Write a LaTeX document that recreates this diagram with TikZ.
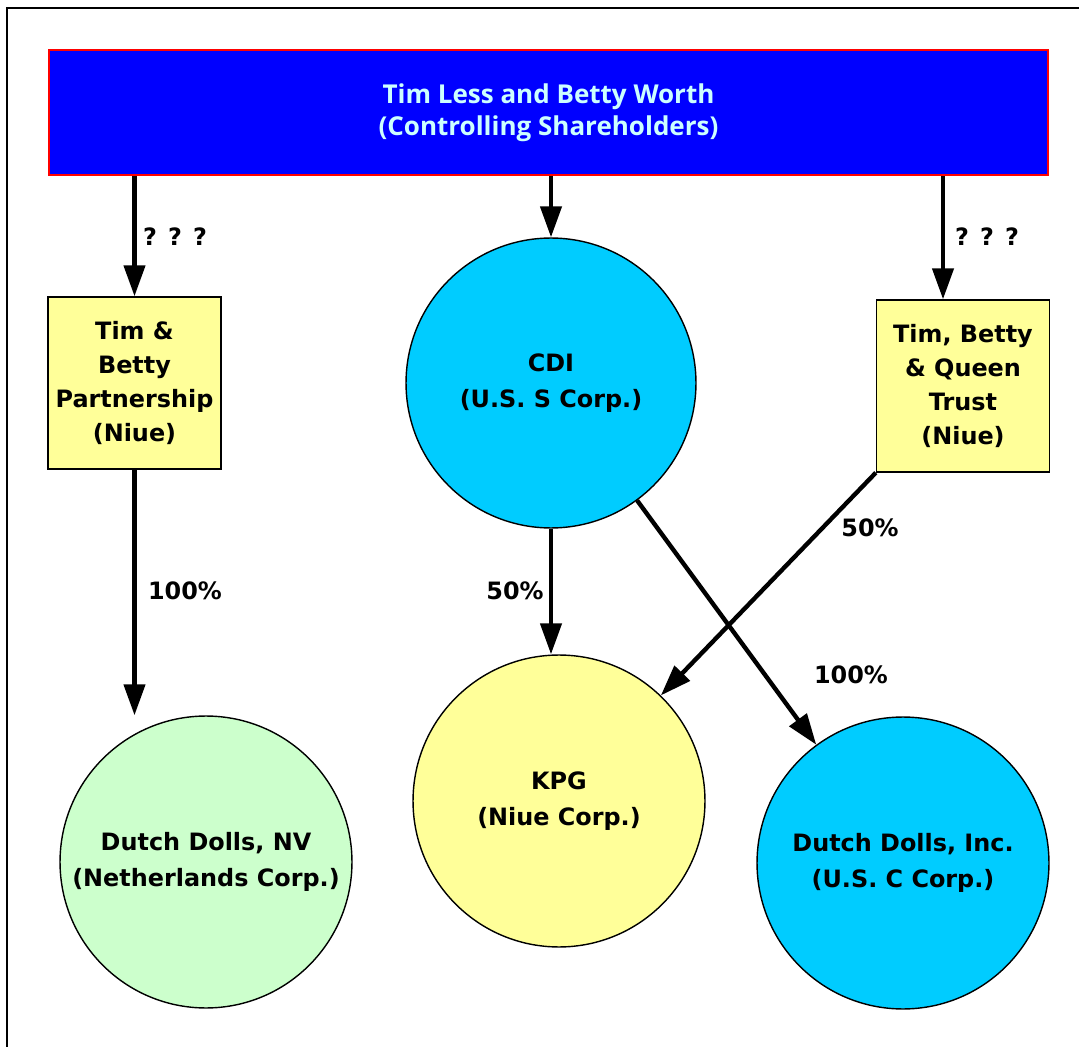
\documentclass[tikz,border=0pt]{standalone}
\usepackage{fontspec}
\setmainfont{DejaVu Sans}
\newfontfamily\headfont{Open Sans}
\usetikzlibrary{arrows.meta,calc,positioning}
\definecolor{ownerblue}{RGB}{0,0,255}
\definecolor{ownertext}{RGB}{204,255,255}
\definecolor{corpcyan}{RGB}{0,204,255}
\definecolor{paleyellow}{RGB}{255,255,153}
\definecolor{palegreen}{RGB}{204,255,204}
\tikzset{
  holder box/.style={rectangle,draw=red,fill=ownerblue,line width=0.9pt,
    minimum width=19.98cm,minimum height=2.5cm,inner sep=0pt,
    text=ownertext,align=center,
    font=\headfont\bfseries\fontsize{14.8}{18.2}\selectfont},
  entity box/.style={rectangle,draw=black,fill=paleyellow,line width=0.8pt,
    minimum width=3.46cm,minimum height=3.44cm,inner sep=0pt,align=center,
    font=\bfseries\fontsize{13.6}{19.3}\selectfont},
  corp circle/.style={circle,draw=black,line width=0.8pt,
    minimum size=5.84cm,inner sep=0pt,align=center,
    font=\bfseries\fontsize{13.6}{20.2}\selectfont},
  stake edge/.style={-{Triangle[length=6.2mm,width=4.2mm]},line width=2.5pt},
  stake label/.style={font=\bfseries\fontsize{13.6}{17}\selectfont,inner sep=0pt}
}
\begin{document}
\begin{tikzpicture}[x=0.02cm,y=-0.02cm]
  \useasboundingbox (0,0) rectangle (1079,1047);
  \draw[line width=1.1pt] (7,1047) -- (7,8) -- (1079,8);
  % owners and holding entities
  \node[holder box] (holders) at (548.5,112.5)
    {Tim Less and Betty Worth\\(Controlling Shareholders)};
  \node[entity box] (partner) at (134.5,383)
    {Tim \&\\Betty\\Partnership\\(Niue)};
  \node[corp circle,fill=corpcyan,minimum size=5.8cm] (cdi) at (551,383)
    {CDI\\(U.S. S Corp.)};
  \node[entity box] (trust) at (963,386)
    {Tim, Betty\\\& Queen\\Trust\\(Niue)};
  % operating companies
  \node[corp circle,fill=palegreen] (ddnv) at (206,862)
    {Dutch Dolls, NV\\(Netherlands Corp.)};
  \node[corp circle,fill=paleyellow] (kpg) at (559,801)
    {KPG\\(Niue Corp.)};
  \node[corp circle,fill=corpcyan] (ddinc) at (903,863)
    {Dutch Dolls, Inc.\\(U.S. C Corp.)};
  % ownership arrows
  \draw[stake edge] (partner.north |- holders.south) -- (partner.north);
  \draw[stake edge] (cdi.north |- holders.south) -- (cdi.north);
  \draw[stake edge] ([xshift=-0.4cm]trust.north |- holders.south)
    -- ([xshift=-0.4cm]trust.north);
  \draw[stake edge] (partner.south) -- (partner.south |- ddnv.north);
  \draw[stake edge] (cdi.south) -- (cdi.south |- kpg.north);
  \draw[stake edge] (cdi) -- (ddinc);
  \draw[stake edge] (trust.south west) -- (kpg);
  % percentages
  \node[stake label] (qleft) at (175,237) {? ? ?};
  \node[stake label] (qright) at (987,237) {? ? ?};
  \node[stake label] (pnv) at (185,591) {100\%};
  \node[stake label] (pkpgcdi) at (515,591) {50\%};
  \node[stake label] (pinc) at (851,675) {100\%};
  \node[stake label] (pkpgtrust) at (870,528) {50\%};
\end{tikzpicture}
\end{document}
